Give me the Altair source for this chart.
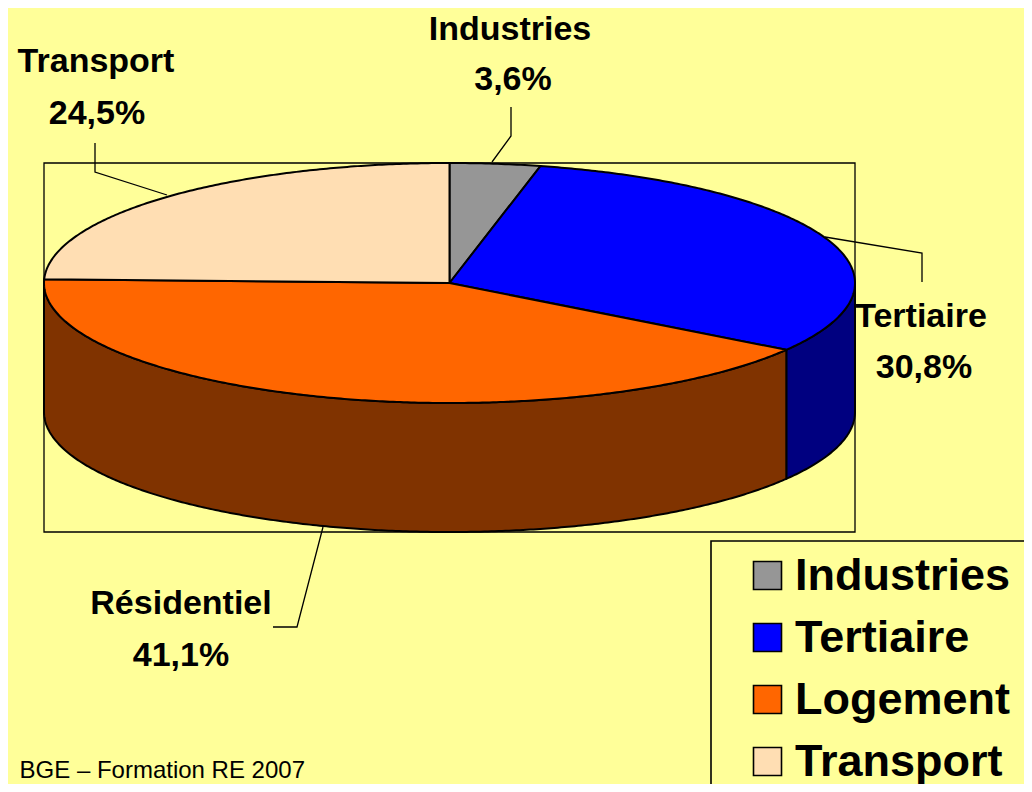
import numpy as np
import pandas as pd
import altair as alt

# Pie values, in reading order clockwise from 12 o'clock
slices = ["Industries", "Tertiaire", "Logement", "Transport"]
shares = [3.6, 30.8, 41.1, 24.5]
top_colors = ["#969696", "#0000FF", "#FF6600", "#FFDEB3"]
side_colors = ["#4B4B4B", "#000080", "#803300", "#807059"]

# Data labels
label_rows = ["Industries", "3,6%", "Transport", "24,5%", "Tertiaire", "30,8%", "Résidentiel", "41,1%"]
label_x = [510, 513, 96, 97, 921, 924, 181, 181]
label_y = [30, 80, 62, 114, 317, 368, 604, 656]

# Leader lines
leader_id = ["I", "I", "I", "Tr", "Tr", "Tr", "Te", "Te", "Te", "R", "R", "R"]
leader_x = [511, 511, 492, 95, 95, 167, 825, 922, 922, 323, 297, 273]
leader_y = [107, 136, 162, 143, 172, 195, 237, 253, 282, 527, 627, 627]

footer = "BGE – Formation RE 2007"
BG = "#FFFF99"
M = 8  # the page's margin
W, H = 1032 - 2 * M, 792 - 2 * M
CX, CY, RX, RY, DEPTH = 449.5, 283, 405.5, 120, 129

# Scales read in window pixels, so that values match the reference's positions
x_s = alt.Scale(domain=[M, M + W], range=[0, W], nice=False, zero=False)
y_s = alt.Scale(domain=[M, M + H], range=[0, H], nice=False, zero=False)
X = lambda f="x": alt.X(f"{f}:Q", scale=x_s, axis=None)
Y = lambda f="y": alt.Y(f"{f}:Q", scale=y_s, axis=None)


def ex(t):
    return CX + RX * np.sin(np.radians(t))


def ey(t):
    return CY - RY * np.cos(np.radians(t))


edges = np.concatenate([[0], np.cumsum(shares)]) * 3.6
top_rows, wall_rows = [], []
for i, name in enumerate(slices):
    a, b = edges[i], edges[i + 1]
    ts = np.linspace(a, b, max(int(b - a) * 2, 8))
    pts = [(CX, CY)] + [(ex(t), ey(t)) for t in ts] + [(CX, CY)]
    top_rows += [dict(name=name, x=p[0], y=p[1], o=k) for k, p in enumerate(pts)]
    lo, hi = max(a, 90), min(b, 270)
    if hi > lo:
        ts = np.linspace(lo, hi, max(int(hi - lo) * 2, 8))
        pts = [(ex(t), ey(t)) for t in ts] + [(ex(t), ey(t) + DEPTH) for t in ts[::-1]]
        pts.append(pts[0])
        wall_rows += [dict(name=name, x=p[0], y=p[1], o=k) for k, p in enumerate(pts)]

top_df = pd.DataFrame(top_rows)
wall_df = pd.DataFrame(wall_rows)

frame = alt.Chart(pd.DataFrame({"x": [CX - RX], "x2": [CX + RX], "y": [CY - RY], "y2": [CY + RY + DEPTH]})).mark_rect(
    fillOpacity=0, stroke="black", strokeWidth=1.3
).encode(x=X(), x2="x2:Q", y=Y(), y2="y2:Q")

walls = alt.Chart(wall_df).mark_line(stroke="black", strokeWidth=2, strokeJoin="round").encode(
    x=X(), y=Y(), order="o:Q", detail="name:N",
    fill=alt.Fill("name:N", scale=alt.Scale(domain=slices, range=side_colors), legend=None),
)

tops = alt.Chart(top_df).mark_line(stroke="black", strokeWidth=2, strokeJoin="round").encode(
    x=X(), y=Y(), order="o:Q", detail="name:N",
    fill=alt.Fill(
        "name:N",
        sort=slices,
        scale=alt.Scale(domain=slices, range=top_colors),
        legend=alt.Legend(
            orient="none", legendX=737, legendY=545, title=None, padding=0,
            symbolType="square", symbolSize=784, symbolStrokeColor="black", symbolStrokeWidth=1.6,
            labelFont="Liberation Sans", labelFontWeight="bold", labelFontSize=45, labelColor="black",
            labelOffset=5, rowPadding=16, labelLimit=400, zindex=2,
        ),
    ),
)

leaders = alt.Chart(pd.DataFrame({"id": leader_id, "x": leader_x, "y": leader_y, "o": range(len(leader_x))})).mark_line(
    color="black", strokeWidth=1.3
).encode(x=X(), y=Y(), order="o:Q", detail="id:N")

labels = alt.Chart(pd.DataFrame({"t": label_rows, "x": label_x, "y": label_y})).mark_text(
    font="Liberation Sans", fontWeight="bold", fontSize=34, color="black", align="center", baseline="middle"
).encode(x=X(), y=Y(), text="t:N")

foot = alt.Chart(pd.DataFrame({"t": [footer], "x": [305], "y": [771]})).mark_text(
    font="Liberation Sans", fontSize=24, color="black", align="right", baseline="middle"
).encode(x=X(), y=Y(), text="t:N")

legend_box = alt.Chart(pd.DataFrame({"x": [711], "x2": [1060], "y": [541], "y2": [820]})).mark_rect(
    fill=BG, stroke="black", strokeWidth=1.6
).encode(x=X(), x2="x2:Q", y=Y(), y2="y2:Q")

chart = alt.layer(frame, leaders, walls, tops, labels, foot, legend_box).properties(
    width=W, height=H, padding=0, autosize="none", background=BG,
).resolve_scale(fill="independent").configure_view(stroke=None)

chart.save("out.html", embed_options={"renderer": "svg", "actions": False})
